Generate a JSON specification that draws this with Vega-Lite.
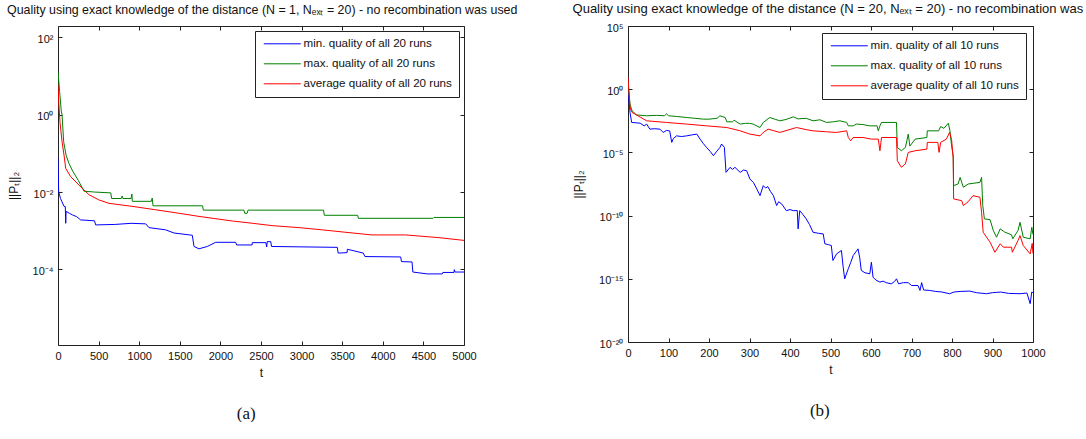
{
  "$schema": "https://vega.github.io/schema/vega-lite/v6.json",
  "background": "white",
  "padding": {"left": 6, "top": 2, "right": 0, "bottom": 0},
  "spacing": 54,
  "resolve": {"scale": {"color": "independent"}, "legend": {"color": "independent"}},
  "config": {
    "font": "Liberation Sans",
    "view": {"stroke": "#222", "strokeWidth": 1},
    "axis": {
      "domain": false,
      "grid": false,
      "tickSize": -4,
      "tickColor": "#222",
      "labelFont": "Liberation Sans",
      "labelFontSize": 11,
      "labelColor": "#111",
      "labelFlush": false,
      "labelOverlap": false,
      "titleFont": "Liberation Sans",
      "titleFontSize": 12,
      "titleFontWeight": "normal",
      "titleColor": "#111"
    },
    "axisY": {"labelOffset": 2},
    "legend": {
      "orient": "top-right",
      "offset": 5,
      "title": null,
      "symbolType": "M-3.7,0H3.7",
      "symbolSize": 100,
      "symbolOffset": 14.5,
      "symbolStrokeWidth": 1,
      "labelFont": "Liberation Sans",
      "labelFontSize": 11.6,
      "labelColor": "#111",
      "labelOffset": 15.5,
      "labelLimit": 400,
      "strokeColor": "#222",
      "fillColor": "#fff",
      "padding": 7,
      "rowPadding": 7
    },
    "title": {"font": "Liberation Sans", "fontSize": 12, "fontWeight": "normal", "color": "#111", "anchor": "start"}
  },
  "datasets": {
    "runsN1": [
      {"t": 0, "q": 0.074, "s": "min."}, {"t": 8, "q": 0.0102, "s": "min."}, {"t": 30, "q": 0.0069, "s": "min."},
      {"t": 74, "q": 0.00427, "s": "min."}, {"t": 90, "q": 0.0042, "s": "min."}, {"t": 95, "q": 0.00155, "s": "min."},
      {"t": 100, "q": 0.00316, "s": "min."}, {"t": 140, "q": 0.00282, "s": "min."}, {"t": 176, "q": 0.00257, "s": "min."},
      {"t": 230, "q": 0.0023, "s": "min."}, {"t": 279, "q": 0.0019, "s": "min."}, {"t": 450, "q": 0.0018, "s": "min."},
      {"t": 464, "q": 0.00141, "s": "min."}, {"t": 700, "q": 0.00145, "s": "min."}, {"t": 900, "q": 0.00155, "s": "min."},
      {"t": 1080, "q": 0.0015, "s": "min."}, {"t": 1120, "q": 0.0012, "s": "min."}, {"t": 1326, "q": 0.00105, "s": "min."},
      {"t": 1429, "q": 0.00087, "s": "min."}, {"t": 1654, "q": 0.00076, "s": "min."}, {"t": 1675, "q": 0.00039, "s": "min."},
      {"t": 1736, "q": 0.000339, "s": "min."}, {"t": 1839, "q": 0.00039, "s": "min."}, {"t": 1942, "q": 0.0005, "s": "min."},
      {"t": 2188, "q": 0.0005, "s": "min."}, {"t": 2200, "q": 0.000427, "s": "min."}, {"t": 2390, "q": 0.000427, "s": "min."},
      {"t": 2393, "q": 0.00049, "s": "min."}, {"t": 2560, "q": 0.00049, "s": "min."}, {"t": 2570, "q": 0.00038, "s": "min."},
      {"t": 2577, "q": 0.00052, "s": "min."}, {"t": 2620, "q": 0.00052, "s": "min."}, {"t": 2630, "q": 0.00039, "s": "min."},
      {"t": 3440, "q": 0.00037, "s": "min."}, {"t": 3450, "q": 0.000263, "s": "min."}, {"t": 3560, "q": 0.00027, "s": "min."},
      {"t": 3563, "q": 0.00033, "s": "min."}, {"t": 3620, "q": 0.00031, "s": "min."}, {"t": 3760, "q": 0.000263, "s": "min."},
      {"t": 3780, "q": 0.000214, "s": "min."}, {"t": 4220, "q": 0.000209, "s": "min."}, {"t": 4230, "q": 0.000158, "s": "min."},
      {"t": 4360, "q": 0.000155, "s": "min."}, {"t": 4370, "q": 0.000085, "s": "min."}, {"t": 4548, "q": 0.000076, "s": "min."},
      {"t": 4733, "q": 0.000076, "s": "min."}, {"t": 4740, "q": 0.000083, "s": "min."}, {"t": 4877, "q": 0.000083, "s": "min."},
      {"t": 4880, "q": 0.000098, "s": "min."}, {"t": 4890, "q": 0.000085, "s": "min."}, {"t": 5000, "q": 0.000085, "s": "min."},

      {"t": 0, "q": 13.2, "s": "max."}, {"t": 20, "q": 3.98, "s": "max."}, {"t": 40, "q": 1.26, "s": "max."},
      {"t": 50, "q": 1.0, "s": "max."}, {"t": 70, "q": 0.2, "s": "max."}, {"t": 100, "q": 0.089, "s": "max."},
      {"t": 135, "q": 0.055, "s": "max."}, {"t": 180, "q": 0.035, "s": "max."}, {"t": 250, "q": 0.02, "s": "max."},
      {"t": 320, "q": 0.0105, "s": "max."}, {"t": 450, "q": 0.01, "s": "max."}, {"t": 650, "q": 0.0095, "s": "max."},
      {"t": 660, "q": 0.0068, "s": "max."}, {"t": 780, "q": 0.0068, "s": "max."}, {"t": 790, "q": 0.0079, "s": "max."},
      {"t": 800, "q": 0.0068, "s": "max."}, {"t": 900, "q": 0.0068, "s": "max."}, {"t": 910, "q": 0.0089, "s": "max."},
      {"t": 915, "q": 0.00575, "s": "max."}, {"t": 1150, "q": 0.00575, "s": "max."}, {"t": 1160, "q": 0.007, "s": "max."},
      {"t": 1170, "q": 0.0044, "s": "max."}, {"t": 1780, "q": 0.0044, "s": "max."}, {"t": 1790, "q": 0.0034, "s": "max."},
      {"t": 2290, "q": 0.0034, "s": "max."}, {"t": 2300, "q": 0.00282, "s": "max."}, {"t": 2330, "q": 0.00282, "s": "max."},
      {"t": 2340, "q": 0.0034, "s": "max."}, {"t": 3270, "q": 0.0034, "s": "max."}, {"t": 3280, "q": 0.0025, "s": "max."},
      {"t": 3690, "q": 0.0025, "s": "max."}, {"t": 3700, "q": 0.00209, "s": "max."}, {"t": 4620, "q": 0.00209, "s": "max."},
      {"t": 4630, "q": 0.0022, "s": "max."}, {"t": 5000, "q": 0.0022, "s": "max."},

      {"t": 0, "q": 5.9, "s": "average"}, {"t": 10, "q": 2.0, "s": "average"}, {"t": 25, "q": 0.63, "s": "average"},
      {"t": 50, "q": 0.2, "s": "average"}, {"t": 74, "q": 0.091, "s": "average"}, {"t": 95, "q": 0.041, "s": "average"},
      {"t": 156, "q": 0.025, "s": "average"}, {"t": 259, "q": 0.0151, "s": "average"}, {"t": 382, "q": 0.0085, "s": "average"},
      {"t": 500, "q": 0.0063, "s": "average"}, {"t": 628, "q": 0.0051, "s": "average"}, {"t": 911, "q": 0.00427, "s": "average"},
      {"t": 1203, "q": 0.00347, "s": "average"}, {"t": 1500, "q": 0.0028, "s": "average"}, {"t": 1736, "q": 0.00234, "s": "average"},
      {"t": 2146, "q": 0.00178, "s": "average"}, {"t": 2400, "q": 0.00155, "s": "average"}, {"t": 2635, "q": 0.00135, "s": "average"},
      {"t": 2968, "q": 0.0012, "s": "average"}, {"t": 3255, "q": 0.00105, "s": "average"}, {"t": 3584, "q": 0.00089, "s": "average"},
      {"t": 3867, "q": 0.000776, "s": "average"}, {"t": 4282, "q": 0.000776, "s": "average"}, {"t": 4692, "q": 0.00066, "s": "average"},
      {"t": 5000, "q": 0.00056, "s": "average"}
    ],
    "runsN20": [
      {"t": 0, "q": 0.79, "s": "min."}, {"t": 5, "q": 0.0145, "s": "min."}, {"t": 9, "q": 0.00234, "s": "min."},
      {"t": 20, "q": 0.0022, "s": "min."}, {"t": 30, "q": 0.00204, "s": "min."}, {"t": 40, "q": 0.00126, "s": "min."},
      {"t": 46, "q": 0.00174, "s": "min."}, {"t": 54, "q": 0.00069, "s": "min."}, {"t": 65, "q": 0.00075, "s": "min."},
      {"t": 79, "q": 0.00069, "s": "min."}, {"t": 87, "q": 0.00038, "s": "min."}, {"t": 95, "q": 0.00055, "s": "min."},
      {"t": 103, "q": 0.0005, "s": "min."}, {"t": 108, "q": 6.2e-5, "s": "min."}, {"t": 112, "q": 1.26e-4, "s": "min."},
      {"t": 120, "q": 2.04e-4, "s": "min."}, {"t": 132, "q": 1.8e-4, "s": "min."}, {"t": 145, "q": 2.04e-4, "s": "min."},
      {"t": 160, "q": 2.5e-4, "s": "min."}, {"t": 170, "q": 2.8e-4, "s": "min."}, {"t": 178, "q": 1.12e-4, "s": "min."},
      {"t": 186, "q": 5e-5, "s": "min."}, {"t": 194, "q": 2.45e-5, "s": "min."}, {"t": 203, "q": 1.2e-5, "s": "min."},
      {"t": 211, "q": 5.5e-6, "s": "min."}, {"t": 218, "q": 1.1e-5, "s": "min."}, {"t": 227, "q": 2.45e-5, "s": "min."},
      {"t": 231, "q": 4.6e-5, "s": "min."}, {"t": 238, "q": 2.5e-5, "s": "min."}, {"t": 242, "q": 2.63e-7, "s": "min."},
      {"t": 252, "q": 6.6e-7, "s": "min."}, {"t": 258, "q": 4.5e-7, "s": "min."}, {"t": 264, "q": 6.6e-7, "s": "min."},
      {"t": 277, "q": 2.63e-7, "s": "min."}, {"t": 285, "q": 4e-7, "s": "min."}, {"t": 293, "q": 3.55e-7, "s": "min."},
      {"t": 301, "q": 7.9e-8, "s": "min."}, {"t": 310, "q": 4e-8, "s": "min."}, {"t": 318, "q": 1.29e-8, "s": "min."},
      {"t": 326, "q": 3.8e-9, "s": "min."}, {"t": 334, "q": 2.34e-8, "s": "min."}, {"t": 340, "q": 1.5e-8, "s": "min."},
      {"t": 345, "q": 2e-8, "s": "min."}, {"t": 352, "q": 8e-9, "s": "min."}, {"t": 359, "q": 3.8e-9, "s": "min."},
      {"t": 367, "q": 6.2e-10, "s": "min."}, {"t": 372, "q": 1.26e-9, "s": "min."}, {"t": 380, "q": 8e-10, "s": "min."},
      {"t": 391, "q": 2.45e-10, "s": "min."}, {"t": 400, "q": 3e-10, "s": "min."}, {"t": 408, "q": 2.45e-10, "s": "min."},
      {"t": 418, "q": 2.5e-10, "s": "min."}, {"t": 420, "q": 8.9e-12, "s": "min."}, {"t": 424, "q": 2.45e-10, "s": "min."},
      {"t": 432, "q": 1.2e-10, "s": "min."}, {"t": 440, "q": 5.5e-11, "s": "min."}, {"t": 448, "q": 2e-11, "s": "min."},
      {"t": 457, "q": 4.8e-12, "s": "min."}, {"t": 470, "q": 4e-12, "s": "min."}, {"t": 482, "q": 3.55e-12, "s": "min."},
      {"t": 486, "q": 5.9e-13, "s": "min."}, {"t": 495, "q": 5e-13, "s": "min."}, {"t": 502, "q": 4.3e-13, "s": "min."},
      {"t": 506, "q": 2.8e-14, "s": "min."}, {"t": 515, "q": 9.3e-14, "s": "min."}, {"t": 527, "q": 1.74e-13, "s": "min."},
      {"t": 531, "q": 1e-14, "s": "min."}, {"t": 535, "q": 1e-15, "s": "min."}, {"t": 544, "q": 6.3e-15, "s": "min."},
      {"t": 550, "q": 2e-14, "s": "min."}, {"t": 556, "q": 6.9e-14, "s": "min."}, {"t": 568, "q": 2.34e-13, "s": "min."},
      {"t": 572, "q": 5e-14, "s": "min."}, {"t": 576, "q": 4.6e-15, "s": "min."}, {"t": 585, "q": 3e-15, "s": "min."},
      {"t": 597, "q": 2.5e-15, "s": "min."}, {"t": 601, "q": 2.04e-14, "s": "min."}, {"t": 605, "q": 1.35e-15, "s": "min."},
      {"t": 612, "q": 8e-16, "s": "min."}, {"t": 622, "q": 5.5e-16, "s": "min."}, {"t": 630, "q": 6.5e-16, "s": "min."},
      {"t": 638, "q": 4.9e-16, "s": "min."}, {"t": 650, "q": 4e-16, "s": "min."}, {"t": 658, "q": 6e-16, "s": "min."},
      {"t": 663, "q": 1e-15, "s": "min."}, {"t": 668, "q": 4e-16, "s": "min."}, {"t": 680, "q": 5e-16, "s": "min."},
      {"t": 692, "q": 4.9e-16, "s": "min."}, {"t": 700, "q": 2.95e-16, "s": "min."}, {"t": 716, "q": 2.95e-16, "s": "min."},
      {"t": 721, "q": 1.2e-16, "s": "min."}, {"t": 725, "q": 5e-16, "s": "min."}, {"t": 730, "q": 1.3e-16, "s": "min."},
      {"t": 745, "q": 1.2e-16, "s": "min."}, {"t": 760, "q": 1e-16, "s": "min."}, {"t": 775, "q": 9e-17, "s": "min."},
      {"t": 794, "q": 6.6e-17, "s": "min."}, {"t": 805, "q": 9e-17, "s": "min."}, {"t": 820, "q": 1e-16, "s": "min."},
      {"t": 844, "q": 1.07e-16, "s": "min."}, {"t": 860, "q": 8e-17, "s": "min."}, {"t": 885, "q": 6.6e-17, "s": "min."},
      {"t": 900, "q": 8e-17, "s": "min."}, {"t": 920, "q": 9e-17, "s": "min."}, {"t": 940, "q": 7e-17, "s": "min."},
      {"t": 968, "q": 6.6e-17, "s": "min."}, {"t": 985, "q": 7.5e-17, "s": "min."}, {"t": 993, "q": 1.07e-17, "s": "min."},
      {"t": 997, "q": 9e-17, "s": "min."}, {"t": 1000, "q": 8e-17, "s": "min."},

      {"t": 0, "q": 3.3, "s": "max."}, {"t": 5, "q": 0.066, "s": "max."}, {"t": 10, "q": 0.0195, "s": "max."},
      {"t": 21, "q": 0.0093, "s": "max."}, {"t": 46, "q": 0.0079, "s": "max."}, {"t": 70, "q": 0.0085, "s": "max."},
      {"t": 90, "q": 0.0079, "s": "max."}, {"t": 95, "q": 0.0112, "s": "max."}, {"t": 100, "q": 0.0079, "s": "max."},
      {"t": 120, "q": 0.007, "s": "max."}, {"t": 145, "q": 0.00575, "s": "max."}, {"t": 165, "q": 0.005, "s": "max."},
      {"t": 186, "q": 0.00427, "s": "max."}, {"t": 200, "q": 0.00427, "s": "max."}, {"t": 220, "q": 0.005, "s": "max."},
      {"t": 227, "q": 0.0079, "s": "max."}, {"t": 240, "q": 0.00575, "s": "max."}, {"t": 244, "q": 0.00263, "s": "max."},
      {"t": 258, "q": 0.00263, "s": "max."}, {"t": 262, "q": 0.0035, "s": "max."}, {"t": 277, "q": 0.00174, "s": "max."},
      {"t": 290, "q": 0.002, "s": "max."}, {"t": 300, "q": 0.002, "s": "max."}, {"t": 309, "q": 0.00174, "s": "max."},
      {"t": 326, "q": 0.00093, "s": "max."}, {"t": 334, "q": 0.00234, "s": "max."}, {"t": 350, "q": 0.00575, "s": "max."},
      {"t": 365, "q": 0.004, "s": "max."}, {"t": 375, "q": 0.00316, "s": "max."}, {"t": 390, "q": 0.004, "s": "max."},
      {"t": 408, "q": 0.0065, "s": "max."}, {"t": 420, "q": 0.0045, "s": "max."}, {"t": 440, "q": 0.005, "s": "max."},
      {"t": 457, "q": 0.00316, "s": "max."}, {"t": 474, "q": 0.0038, "s": "max."}, {"t": 490, "q": 0.00234, "s": "max."},
      {"t": 507, "q": 0.00263, "s": "max."}, {"t": 523, "q": 0.00316, "s": "max."}, {"t": 540, "q": 0.00234, "s": "max."},
      {"t": 544, "q": 0.00126, "s": "max."}, {"t": 556, "q": 0.00126, "s": "max."}, {"t": 564, "q": 0.00174, "s": "max."},
      {"t": 580, "q": 0.0016, "s": "max."}, {"t": 597, "q": 0.00126, "s": "max."}, {"t": 615, "q": 0.00126, "s": "max."},
      {"t": 618, "q": 0.00051, "s": "max."}, {"t": 622, "q": 0.00126, "s": "max."}, {"t": 626, "q": 0.00234, "s": "max."},
      {"t": 663, "q": 0.00234, "s": "max."}, {"t": 665, "q": 2.45e-5, "s": "max."}, {"t": 675, "q": 1.35e-5, "s": "max."},
      {"t": 685, "q": 2.5e-5, "s": "max."}, {"t": 692, "q": 2.8e-4, "s": "max."}, {"t": 696, "q": 3.16e-5, "s": "max."},
      {"t": 709, "q": 1.12e-4, "s": "max."}, {"t": 738, "q": 1.51e-4, "s": "max."}, {"t": 739, "q": 5.1e-4, "s": "max."},
      {"t": 767, "q": 5.1e-4, "s": "max."}, {"t": 772, "q": 1.1e-3, "s": "max."}, {"t": 780, "q": 8e-4, "s": "max."},
      {"t": 791, "q": 2.04e-3, "s": "max."}, {"t": 795, "q": 5e-4, "s": "max."}, {"t": 799, "q": 3.3e-5, "s": "max."},
      {"t": 803, "q": 5.5e-6, "s": "max."}, {"t": 804, "q": 2.34e-8, "s": "max."}, {"t": 815, "q": 3.16e-8, "s": "max."},
      {"t": 820, "q": 1.05e-7, "s": "max."}, {"t": 828, "q": 1.74e-8, "s": "max."}, {"t": 840, "q": 3.16e-8, "s": "max."},
      {"t": 869, "q": 4.27e-8, "s": "max."}, {"t": 873, "q": 1.05e-7, "s": "max."}, {"t": 876, "q": 6.2e-10, "s": "max."},
      {"t": 880, "q": 5.5e-11, "s": "max."}, {"t": 894, "q": 4.8e-11, "s": "max."}, {"t": 902, "q": 6.6e-12, "s": "max."},
      {"t": 910, "q": 1.95e-12, "s": "max."}, {"t": 919, "q": 8.9e-12, "s": "max."}, {"t": 930, "q": 5e-12, "s": "max."},
      {"t": 947, "q": 3e-12, "s": "max."}, {"t": 950, "q": 1.45e-12, "s": "max."}, {"t": 963, "q": 6.6e-12, "s": "max."},
      {"t": 968, "q": 2.95e-11, "s": "max."}, {"t": 976, "q": 1.95e-12, "s": "max."}, {"t": 993, "q": 1.45e-12, "s": "max."},
      {"t": 997, "q": 1.2e-11, "s": "max."}, {"t": 1000, "q": 3.2e-12, "s": "max."},

      {"t": 0, "q": 8.3, "s": "average"}, {"t": 5, "q": 0.0355, "s": "average"}, {"t": 10, "q": 0.0145, "s": "average"},
      {"t": 30, "q": 0.0063, "s": "average"}, {"t": 46, "q": 0.00316, "s": "average"}, {"t": 95, "q": 0.00234, "s": "average"},
      {"t": 145, "q": 0.00174, "s": "average"}, {"t": 194, "q": 0.00126, "s": "average"}, {"t": 244, "q": 0.00093, "s": "average"},
      {"t": 277, "q": 0.00051, "s": "average"}, {"t": 301, "q": 0.00028, "s": "average"}, {"t": 326, "q": 0.000204, "s": "average"},
      {"t": 334, "q": 0.00038, "s": "average"}, {"t": 346, "q": 0.00069, "s": "average"}, {"t": 375, "q": 0.00038, "s": "average"},
      {"t": 416, "q": 0.00093, "s": "average"}, {"t": 440, "q": 0.00063, "s": "average"}, {"t": 457, "q": 0.00051, "s": "average"},
      {"t": 490, "q": 0.000427, "s": "average"}, {"t": 515, "q": 0.00038, "s": "average"}, {"t": 540, "q": 0.00051, "s": "average"},
      {"t": 544, "q": 0.000151, "s": "average"}, {"t": 550, "q": 0.000083, "s": "average"}, {"t": 556, "q": 0.000151, "s": "average"},
      {"t": 580, "q": 0.000151, "s": "average"}, {"t": 601, "q": 0.000112, "s": "average"}, {"t": 618, "q": 0.000112, "s": "average"},
      {"t": 622, "q": 1.35e-5, "s": "average"}, {"t": 626, "q": 1.51e-4, "s": "average"}, {"t": 663, "q": 1.51e-4, "s": "average"},
      {"t": 665, "q": 2.2e-6, "s": "average"}, {"t": 675, "q": 6.6e-7, "s": "average"}, {"t": 685, "q": 1.26e-6, "s": "average"},
      {"t": 692, "q": 1e-5, "s": "average"}, {"t": 709, "q": 1.35e-5, "s": "average"}, {"t": 738, "q": 1.82e-5, "s": "average"},
      {"t": 739, "q": 6.2e-5, "s": "average"}, {"t": 765, "q": 6.2e-5, "s": "average"}, {"t": 768, "q": 1e-5, "s": "average"},
      {"t": 772, "q": 6.2e-5, "s": "average"}, {"t": 786, "q": 1.12e-4, "s": "average"}, {"t": 794, "q": 3.8e-4, "s": "average"},
      {"t": 799, "q": 1e-4, "s": "average"}, {"t": 803, "q": 3.16e-6, "s": "average"}, {"t": 804, "q": 2.1e-9, "s": "average"},
      {"t": 824, "q": 1.51e-9, "s": "average"}, {"t": 828, "q": 6.2e-10, "s": "average"}, {"t": 840, "q": 1.26e-9, "s": "average"},
      {"t": 852, "q": 3.8e-9, "s": "average"}, {"t": 869, "q": 2.8e-9, "s": "average"}, {"t": 873, "q": 1.82e-10, "s": "average"},
      {"t": 877, "q": 4.8e-12, "s": "average"}, {"t": 894, "q": 7.9e-13, "s": "average"}, {"t": 906, "q": 1.26e-13, "s": "average"},
      {"t": 919, "q": 5.9e-13, "s": "average"}, {"t": 927, "q": 3.16e-13, "s": "average"}, {"t": 947, "q": 3.16e-13, "s": "average"},
      {"t": 949, "q": 1.26e-13, "s": "average"}, {"t": 963, "q": 1.07e-12, "s": "average"}, {"t": 968, "q": 2.6e-12, "s": "average"},
      {"t": 976, "q": 4.3e-13, "s": "average"}, {"t": 993, "q": 9.3e-14, "s": "average"}, {"t": 998, "q": 6.3e-13, "s": "average"},
      {"t": 1000, "q": 1e-13, "s": "average"}
    ]
  },
  "hconcat": [
    {
      "title": {"text": "(a)", "orient": "bottom", "anchor": "middle", "font": "Liberation Serif", "fontSize": 17, "offset": 27, "dx": -16},
      "resolve": {"scale": {"color": "independent"}, "legend": {"color": "independent"}},
      "vconcat": [
        {
          "title": {"text": "Quality using exact knowledge of the distance (N = 1, Nₑₓₜ = 20) - no recombination was used", "offset": 9, "fontSize": 12.4},
          "width": 406,
          "height": 319,
          "data": {"name": "runsN1"},
          "layer": [
            {
              "mark": {"type": "line", "strokeWidth": 1, "clip": true},
              "encoding": {
                "x": {"field": "t", "type": "quantitative", "scale": {"domain": [0, 5000], "nice": false},
                      "axis": {"values": [0, 500, 1000, 1500, 2000, 2500, 3000, 3500, 4000, 4500, 5000], "format": "d", "labelPadding": 9, "title": "t", "titlePadding": 6}},
                "y": {"field": "q", "type": "quantitative", "scale": {"type": "log", "domain": [1.1e-6, 198], "nice": false},
                      "axis": {"values": [100, 1, 0.01, 0.0001], "labelPadding": 9, "title": "||Pₜ||₂", "titlePadding": 12,
                               "labelExpr": "datum.value > 10 ? '10²' : datum.value > 0.1 ? '10⁰' : datum.value > 0.001 ? '10⁻²' : '10⁻⁴'"}},
                "color": {"field": "s", "type": "nominal",
                          "scale": {"domain": ["min.", "max.", "average"], "range": ["#0000ff", "#008000", "#ff0000"]},
                          "legend": {"orient": "top-right", "labelExpr": "datum.label + ' quality of all 20 runs'"}}
              }
            },
            {
              "mark": {"type": "line", "strokeOpacity": 0},
              "encoding": {
                "x": {"field": "t", "type": "quantitative", "axis": {"orient": "top", "values": [0, 500, 1000, 1500, 2000, 2500, 3000, 3500, 4000, 4500, 5000], "labels": false, "title": null}},
                "y": {"field": "q", "type": "quantitative", "axis": {"orient": "right", "values": [100, 1, 0.01, 0.0001], "labels": false, "title": null}},
                "detail": {"field": "s"}
              }
            }
          ],
          "resolve": {"axis": {"x": "independent", "y": "independent"}}
        }
      ]
    },
    {
      "title": {"text": "(b)", "orient": "bottom", "anchor": "middle", "font": "Liberation Serif", "fontSize": 17, "offset": 27, "dx": -24},
      "resolve": {"scale": {"color": "independent"}, "legend": {"color": "independent"}},
      "vconcat": [
        {
          "title": {"text": "Quality using exact knowledge of the distance (N = 20, Nₑₓₜ = 20) - no recombination was used", "offset": 6, "fontSize": 13},
          "width": 405,
          "height": 316,
          "data": {"name": "runsN20"},
          "layer": [
            {
              "mark": {"type": "line", "strokeWidth": 1, "clip": true},
              "encoding": {
                "x": {"field": "t", "type": "quantitative", "scale": {"domain": [0, 1000], "nice": false},
                      "axis": {"values": [0, 100, 200, 300, 400, 500, 600, 700, 800, 900, 1000], "format": "d", "labelPadding": 9, "title": "t", "titlePadding": 6}},
                "y": {"field": "q", "type": "quantitative", "scale": {"type": "log", "domain": [1e-20, 1e5], "nice": false},
                      "axis": {"values": [1e5, 1, 1e-5, 1e-10, 1e-15, 1e-20], "labelPadding": 9, "title": "||Pₜ||₂", "titlePadding": 13,
                               "labelExpr": "datum.value > 1000 ? '10⁵' : datum.value > 0.001 ? '10⁰' : datum.value > 1e-8 ? '10⁻⁵' : datum.value > 1e-13 ? '10⁻¹⁰' : datum.value > 1e-18 ? '10⁻¹⁵' : '10⁻²⁰'"}},
                "color": {"field": "s", "type": "nominal",
                          "scale": {"domain": ["min.", "max.", "average"], "range": ["#0000ff", "#008000", "#ff0000"]},
                          "legend": {"orient": "top-right", "offset": 7, "labelExpr": "datum.label + ' quality of all 10 runs'"}}
              }
            },
            {
              "mark": {"type": "line", "strokeOpacity": 0},
              "encoding": {
                "x": {"field": "t", "type": "quantitative", "axis": {"orient": "top", "values": [0, 100, 200, 300, 400, 500, 600, 700, 800, 900, 1000], "labels": false, "title": null}},
                "y": {"field": "q", "type": "quantitative", "axis": {"orient": "right", "values": [1e5, 1, 1e-5, 1e-10, 1e-15, 1e-20], "labels": false, "title": null}},
                "detail": {"field": "s"}
              }
            }
          ],
          "resolve": {"axis": {"x": "independent", "y": "independent"}}
        }
      ]
    }
  ]
}
